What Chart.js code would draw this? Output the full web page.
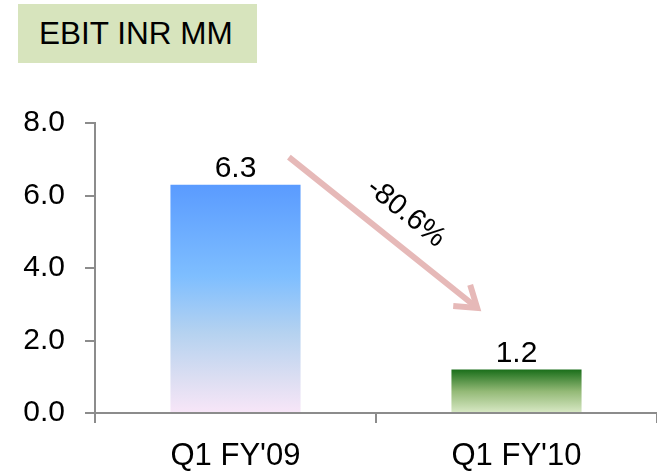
<!DOCTYPE html>
<html>
<head>
<meta charset="utf-8">
<script src="https://cdn.jsdelivr.net/npm/chart.js@4.4.1/dist/chart.umd.min.js"></script>
<style>
  html, body { margin: 0; padding: 0; background: #fff; }
  #wrap { position: relative; width: 657px; height: 476px; overflow: hidden; }
  #title {
    position: absolute; left: 18px; top: 4px; width: 239px; height: 59px;
    background: #D7E4BD; box-sizing: border-box; padding-left: 21px;
    font-family: "Liberation Sans", Arial, sans-serif; font-size: 31.5px;
    line-height: 59px; color: #000; white-space: nowrap;
  }
  canvas { position: absolute; left: 0; top: 0; }
</style>
</head>
<body>
<div id="wrap">
  <canvas id="c" width="657" height="476"></canvas>
  <div id="title">EBIT INR MM</div>
</div>
<script>
const categories = ["Q1 FY'09", "Q1 FY'10"];
const ebitValues = [6.3, 1.2];
const yTickLabels = ['0.0', '2.0', '4.0', '6.0', '8.0'];
const changeLabel = '-80.6%';

const FONT = '"Liberation Sans", Arial, sans-serif';

const gradientStops = [
  [[0, '#5A9BFF'], [0.4, '#7EBEFF'], [0.65, '#B5D2F0'], [0.85, '#DCDEF2'], [1, '#F8E6F8']],
  [[0, '#1A6E1A'], [0.5, '#93B976'], [1, '#D9E9C6']]
];

function barGradient(ctx) {
  const chart = ctx.chart;
  const area = chart.chartArea;
  if (!area || !chart.scales.y) return '#5A9BFF';
  const y = chart.scales.y;
  const top = y.getPixelForValue(ebitValues[ctx.dataIndex]);
  const bottom = y.getPixelForValue(0);
  const g = chart.ctx.createLinearGradient(0, top, 0, bottom);
  gradientStops[ctx.dataIndex].forEach(s => g.addColorStop(s[0], s[1]));
  return g;
}

const valueLabels = {
  id: 'valueLabels',
  afterDatasetsDraw(chart) {
    const c = chart.ctx;
    const meta = chart.getDatasetMeta(0);
    c.save();
    c.font = '30px ' + FONT;
    c.fillStyle = '#000';
    c.textAlign = 'center';
    c.textBaseline = 'alphabetic';
    meta.data.forEach((bar, i) => {
      c.fillText(ebitValues[i].toFixed(1), bar.x, bar.y - 8);
    });
    c.restore();
  }
};

const changeArrow = {
  id: 'changeArrow',
  afterDatasetsDraw(chart, args, opts) {
    const c = chart.ctx;
    const xs = chart.scales.x, ys = chart.scales.y;
    const x1 = xs.getPixelForValue(opts.from[0]), y1 = ys.getPixelForValue(opts.from[1]);
    const x2 = xs.getPixelForValue(opts.to[0]), y2 = ys.getPixelForValue(opts.to[1]);
    const ang = Math.atan2(y2 - y1, x2 - x1);
    c.save();
    c.strokeStyle = '#E6B9B8';
    c.lineWidth = 6;
    c.lineCap = 'butt';
    c.beginPath();
    c.moveTo(x1, y1);
    c.lineTo(x2 - 3 * Math.cos(ang), y2 - 3 * Math.sin(ang));
    c.stroke();
    const L = 24, a = 0.6;
    c.lineJoin = 'miter';
    c.beginPath();
    c.moveTo(x2 - L * Math.cos(ang - a), y2 - L * Math.sin(ang - a));
    c.lineTo(x2, y2);
    c.lineTo(x2 - L * Math.cos(ang + a), y2 - L * Math.sin(ang + a));
    c.stroke();
    const mx = (x1 + x2) / 2, my = (y1 + y2) / 2;
    const off = 30;
    const tx = mx + off * Math.sin(ang) + 4, ty = my - off * Math.cos(ang) + 4;
    c.translate(tx, ty);
    c.rotate(ang);
    c.font = '29px ' + FONT;
    c.fillStyle = '#000';
    c.textAlign = 'center';
    c.textBaseline = 'middle';
    c.fillText(changeLabel, 0, 0);
    c.restore();
  }
};

new Chart(document.getElementById('c'), {
  type: 'bar',
  data: {
    labels: categories,
    datasets: [{
      data: ebitValues,
      backgroundColor: barGradient,
      borderWidth: 0,
      barPercentage: 0.463,
      categoryPercentage: 1.0
    }]
  },
  options: {
    responsive: false,
    animation: false,
    devicePixelRatio: 1,
    layout: { padding: { top: 123, right: 0, bottom: 0, left: 0 } },
    plugins: {
      legend: { display: false },
      tooltip: { enabled: false },
      changeArrow: { from: [0.19, 7.06], to: [0.86, 2.9] }
    },
    scales: {
      x: {
        offset: true,
        border: { display: true, color: '#8C8C8C', width: 2 },
        grid: { display: true, offset: true, drawOnChartArea: false, drawTicks: true, tickLength: 10, color: '#8C8C8C', lineWidth: 2 },
        ticks: { color: '#000', font: { family: FONT, size: 31 }, padding: 15, maxRotation: 0 },
        afterFit(scale) { scale.height = 63; }
      },
      y: {
        min: 0, max: 8,
        border: { display: true, color: '#8C8C8C', width: 2 },
        grid: { display: true, drawOnChartArea: false, drawTicks: true, tickLength: 10, color: '#8C8C8C', lineWidth: 2 },
        ticks: {
          stepSize: 2, color: '#000', font: { family: FONT, size: 30 }, padding: 20,
          callback: (v, i) => yTickLabels[i]
        },
        afterFit(scale) { scale.width = 95; }
      }
    }
  },
  plugins: [valueLabels, changeArrow]
});
</script>
</body>
</html>
